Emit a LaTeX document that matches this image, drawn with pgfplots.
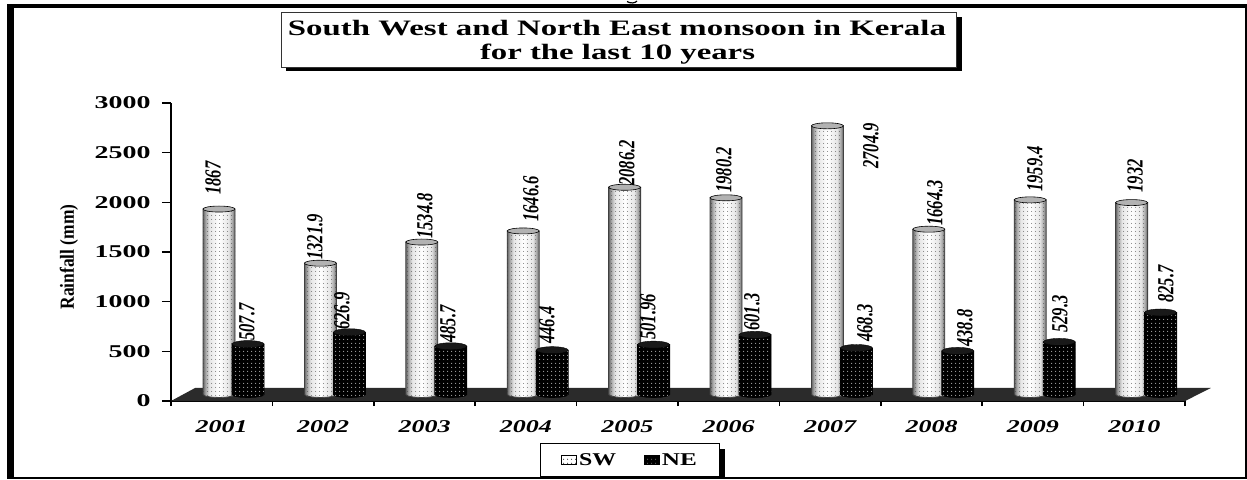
\documentclass[border=0pt]{standalone}
\usepackage{pgfplots}
\pgfplotsset{compat=1.18}
\usepackage{pgfplotstable}
\usepackage{fontspec}
\setmainfont{Liberation Serif}
\usetikzlibrary{patterns.meta}
\definecolor{floor}{HTML}{2B2B2B}
\pgfdeclarehorizontalshading{cylsw}{100bp}{color(0bp)=(black!60); color(25bp)=(black!60); color(29bp)=(black!35); color(35bp)=(black!10); color(50bp)=(white); color(65bp)=(black!10); color(71bp)=(black!35); color(75bp)=(black!65); color(100bp)=(black!65)}
\pgfdeclareplotmark{capsw}{\pgfpathellipse{\pgfpointorigin}{\pgfqpoint{16pt}{0pt}}{\pgfqpoint{0pt}{3pt}}\pgfusepathqfillstroke}
\pgfdeclareplotmark{capne}{\pgfpathellipse{\pgfpointorigin}{\pgfqpoint{16pt}{0pt}}{\pgfqpoint{0pt}{3.5pt}}\pgfusepathqfillstroke}
\newcommand\ylab[1]{\scalebox{1.55}[1]{\fontsize{18}{18}\selectfont\bfseries #1}}
\newcommand\xlab[1]{\resizebox{52pt}{\height}{\fontsize{18}{18}\selectfont\bfseries\itshape #1}}
\newcommand\vlab[1]{\scalebox{0.72}[1]{\fontsize{23}{23}\selectfont\itshape\bfseries #1}}
\pgfplotstableread{
x v dx dy label
0.5 1867 -6 31 1867
1.5 1321.9 -5.4 26.2 1321.9
2.5 1534.8 3.2 26 1534.8
3.5 1646.6 7.8 31.9 1646.6
4.5 2086.2 2.4 24.3 2086.2
5.5 1980.2 -2 27.8 1980.2
6.5 2704.9 43.6 -20.2 2704.9
7.5 1664.3 6.2 26.2 1664.3
8.5 1959.4 4.8 30.9 1959.4
9.5 1932 3.4 26.6 1932
}\swdata
\pgfplotstableread{
x v dx dy label
0.5 507.7 -1 22.1 507.7
1.5 626.9 -7.4 21.2 626.9
2.5 485.7 -2.8 22.3 485.7
3.5 446.4 -5.2 25.2 446.4
4.5 501.96 -5.6 27.6 501.96
5.5 601.3 -3 22.8 601.3
6.5 468.3 8.6 25 468.3
7.5 438.8 7.2 22.9 438.8
8.5 529.3 0.8 27.9 529.3
9.5 825.7 5.4 28.5 825.7
}\nedata
% one cylinder body: #1 body style, #2 dot style, #3 x position, #4 value
\newcommand\cyl[4]{%
  \pgfmathsetmacro\xa{#3-0.1578}\pgfmathsetmacro\xb{#3-0.1373}\pgfmathsetmacro\xc{#3-0.0789}%
  \pgfmathsetmacro\xd{#3+0.0789}\pgfmathsetmacro\xe{#3+0.1373}\pgfmathsetmacro\xf{#3+0.1578}%
  \addplot[forget plot,#1] coordinates {(\xa,#4) (\xa,0) (\xb,-15) (\xc,-26) (#3,-30) (\xd,-26) (\xe,-15) (\xf,0) (\xf,#4)} -- cycle;
  \addplot[forget plot,#2] coordinates {(\xa,#4) (\xa,0) (\xb,-15) (\xc,-26) (#3,-30) (\xd,-26) (\xe,-15) (\xf,0) (\xf,#4)} -- cycle;
}
\newcommand\swcyl[2]{\cyl{swbar}{swdot}{#1}{#2}}
\newcommand\necyl[2]{\cyl{nebar}{nedot}{#1}{#2}}
\tikzset{
  swbar/.style={xshift=-2.7pt,draw=black!75,line width=0.8pt,shading=cylsw,shade},
  swdot/.style={xshift=-2.7pt,draw=none,pattern={Dots[distance=4pt,radius=0.5pt]},pattern color=black!75},
  nebar/.style={xshift=26.3pt,draw=black,line width=0.8pt,fill=black},
  nedot/.style={xshift=26.3pt,draw=none,pattern={Dots[distance=4pt,radius=0.65pt]},pattern color=gray!70},
}
\begin{document}
\begin{tikzpicture}[x=1pt,y=1pt]
\useasboundingbox (0,0) rectangle (1247,-479);
\fill[white] (0,0) rectangle (1247,-479);
% page frame
\fill[black] (7,-4) rectangle (1247,-8);
\fill[black] (7,-4) rectangle (14,-479);
\fill[black] (1244.5,-4) rectangle (1246.5,-479);
\fill[black] (7,-477) rectangle (1246.5,-478.6);
% tail of a cut-off letter above the frame
\draw[black,line width=1.2pt] (627,-1.5) .. controls (630,-3.5) and (635,-3.5) .. (637,-1);
% legend shadow
\fill[black] (545,-449) rectangle (725,-477);
% main axis: floor, axis lines, ticks
\begin{axis}[
  at={(171pt,-401pt)},anchor=south west,
  scale only axis,width=1014pt,height=298pt,
  xmin=0,xmax=10,ymin=0,ymax=3000,
  clip=false,
  axis x line=bottom,axis y line=left,
  axis line style={-,line width=1.5pt,black},
  every tick/.style={black,line width=1.5pt},
  ytick={0,500,1000,1500,2000,2500,3000},
  yticklabels={\ylab{0},\ylab{500},\ylab{1000},\ylab{1500},\ylab{2000},\ylab{2500},\ylab{3000}},
  ytick align=outside,
  xtick align=center,
  major tick length=9pt,minor tick length=10pt,
  xtick={0.5,1.5,2.5,3.5,4.5,5.5,6.5,7.5,8.5,9.5},
  minor xtick={0,1,2,3,4,5,6,7,8,9,10},
  major x tick style={draw=none},
  xticklabels={\xlab{2001},\xlab{2002},\xlab{2003},\xlab{2004},\xlab{2005},\xlab{2006},\xlab{2007},\xlab{2008},\xlab{2009},\xlab{2010}},
  xticklabel style={yshift=-11pt},
  yticklabel style={xshift=-8pt},
]
\addplot[fill=floor,draw=none] coordinates {(0,0) (10,0) (10.256,131) (0.237,131)} -- cycle;
\end{axis}
% bars
\begin{axis}[
  at={(171pt,-394.5pt)},anchor=south west,
  scale only axis,width=1014pt,height=298pt,
  xmin=0,xmax=10,ymin=0,ymax=3000,
  clip=false,hide axis,
  legend style={at={(rel axis cs:0.4527,-0.2198)},anchor=center,draw=black,line width=0.8pt,fill=white,
    inner xsep=21pt,inner ysep=7.5pt,
    legend columns=2,/tikz/every even column/.append style={column sep=26pt}},
  legend image code/.code={\draw[#1] (0pt,-4.5pt) rectangle (15pt,4.5pt);},
]
% SW
\swcyl{0.5}{1867}\swcyl{1.5}{1321.9}\swcyl{2.5}{1534.8}\swcyl{3.5}{1646.6}\swcyl{4.5}{2086.2}
\swcyl{5.5}{1980.2}\swcyl{6.5}{2704.9}\swcyl{7.5}{1664.3}\swcyl{8.5}{1959.4}\swcyl{9.5}{1932}
\addplot[forget plot,only marks,mark=capsw,mark options={xshift=-2.7pt,fill=gray!60,draw=black,line width=0.6pt}] table[x=x,y=v] {\swdata};
% NE
\necyl{0.5}{507.7}\necyl{1.5}{626.9}\necyl{2.5}{485.7}\necyl{3.5}{446.4}\necyl{4.5}{501.96}
\necyl{5.5}{601.3}\necyl{6.5}{468.3}\necyl{7.5}{438.8}\necyl{8.5}{529.3}\necyl{9.5}{825.7}
\addplot[forget plot,only marks,mark=capne,mark options={xshift=26.3pt,fill=black!90,draw=black}] table[x=x,y=v] {\nedata};
% value labels
\addplot[forget plot,draw=none,mark=none,
  visualization depends on={\thisrow{dx} \as \dx},
  visualization depends on={\thisrow{dy} \as \dy},
  point meta=explicit symbolic,
  nodes near coords={\vlab{\pgfplotspointmeta}},
  every node near coord/.append style={xshift=\dx pt-2.7pt,yshift=\dy pt,rotate=90,anchor=center,inner sep=0pt}]
  table[x=x,y=v,meta=label] {\swdata};
\addplot[forget plot,draw=none,mark=none,
  visualization depends on={\thisrow{dx} \as \dx},
  visualization depends on={\thisrow{dy} \as \dy},
  point meta=explicit symbolic,
  nodes near coords={\vlab{\pgfplotspointmeta}},
  every node near coord/.append style={xshift=\dx pt+26.3pt,yshift=\dy pt,rotate=90,anchor=center,inner sep=0pt}]
  table[x=x,y=v,meta=label] {\nedata};
% legend
\addlegendimage{draw=black,fill=white,postaction={pattern={Dots[distance=4pt,radius=0.6pt]},pattern color=black}}
\addlegendentry{\resizebox{37pt}{\height}{\fontsize{18}{18}\selectfont\bfseries SW}}
\addlegendimage{draw=black,fill=black,postaction={pattern={Dots[distance=4pt,radius=0.6pt]},pattern color=gray}}
\addlegendentry{\resizebox{35pt}{\height}{\fontsize{18}{18}\selectfont\bfseries NE}}
\end{axis}
% y label
\node[rotate=90,inner sep=0pt] at (69,-257) {\resizebox{105pt}{\height}{\fontsize{20}{20}\selectfont\bfseries Rainfall (mm)}};
% title box
\fill[black] (286,-17) rectangle (961.5,-71);
\draw[black!80,fill=white,line width=0.8pt] (281,-12.7) rectangle (956,-67);
\node[inner sep=0pt] at (617,-28) {\resizebox{658pt}{\height}{\fontsize{22}{22}\selectfont\bfseries South West and North East monsoon in Kerala}};
\node[inner sep=0pt] at (617.5,-54) {\resizebox{275pt}{\height}{\fontsize{22}{22}\selectfont\bfseries for the last 10 years}};
\end{tikzpicture}
\end{document}
